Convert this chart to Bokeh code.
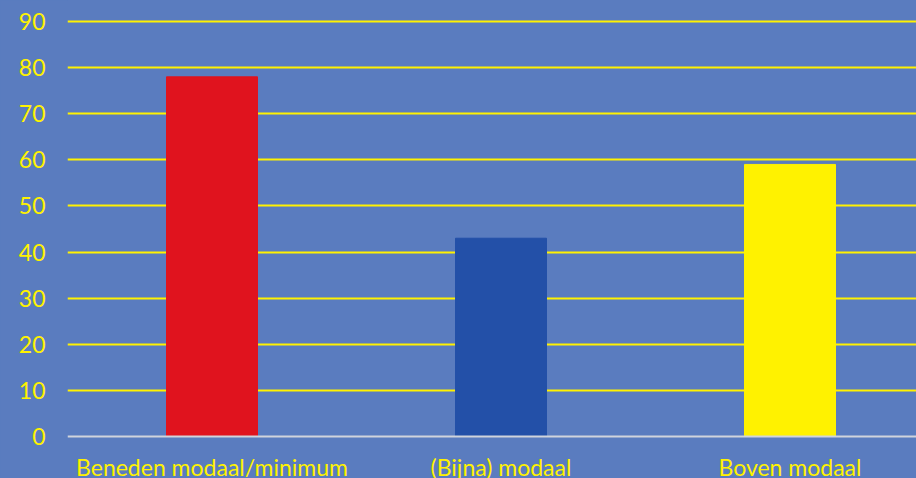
from bokeh.plotting import figure
from bokeh.models import Range1d, FixedTicker, ColumnDataSource
from bokeh.embed import file_html
from bokeh.resources import INLINE

categories = ["Beneden modaal/minimum", "(Bijna) modaal", "Boven modaal"]
values = [78, 43, 59]
colors = ["#E0131E", "#2350A8", "#FFF200"]
y_ticks = [0, 10, 20, 30, 40, 50, 60, 70, 80, 90]

xpos = [i + 0.5 for i in range(len(categories))]
src = ColumnDataSource(dict(x=xpos, top=values, color=colors))

BG = "#5A7CBF"
PX = 415 / 90  # pixels per unit
p = figure(width=916, height=478, output_backend="svg", toolbar_location=None,
           x_range=Range1d(0, 849 / 289), y_range=Range1d(-42 / PX, 436 / PX),
           min_border_left=67, min_border_right=0, min_border_top=0, min_border_bottom=0)
p.background_fill_color = BG
p.border_fill_color = BG
p.outline_line_color = None
p.styles = {"background-color": BG}

p.vbar(x="x", top="top", bottom=0, width=91 / 289, color="color", source=src)

p.xgrid.visible = False
p.ygrid.ticker = FixedTicker(ticks=y_ticks[1:])
p.ygrid.grid_line_color = "#FFF200"
p.ygrid.grid_line_width = 2
p.ygrid.level = "underlay"

p.yaxis.ticker = FixedTicker(ticks=y_ticks)
p.yaxis.axis_line_color = None
p.yaxis.major_tick_line_color = None
p.yaxis.minor_tick_line_color = None
p.yaxis.major_tick_out = 0
p.yaxis.major_label_standoff = 22
p.yaxis.major_label_text_color = "#FFF200"
p.yaxis.major_label_text_font = "Lato"
p.yaxis.major_label_text_font_size = "23px"

p.xaxis.fixed_location = 0
p.xaxis.ticker = FixedTicker(ticks=xpos)
p.xaxis.major_label_overrides = {x: c for x, c in zip(xpos, categories)}
p.xaxis.axis_line_color = "#D0D4DC"
p.xaxis.axis_line_width = 2
p.xaxis.major_tick_line_color = None
p.xaxis.minor_tick_line_color = None
p.xaxis.major_tick_out = 0
p.xaxis.major_label_standoff = 16
p.xaxis.major_label_text_color = "#FFF200"
p.xaxis.major_label_text_font = "Lato"
p.xaxis.major_label_text_font_size = "23px"

open("out.html", "w").write(file_html(p, INLINE))
